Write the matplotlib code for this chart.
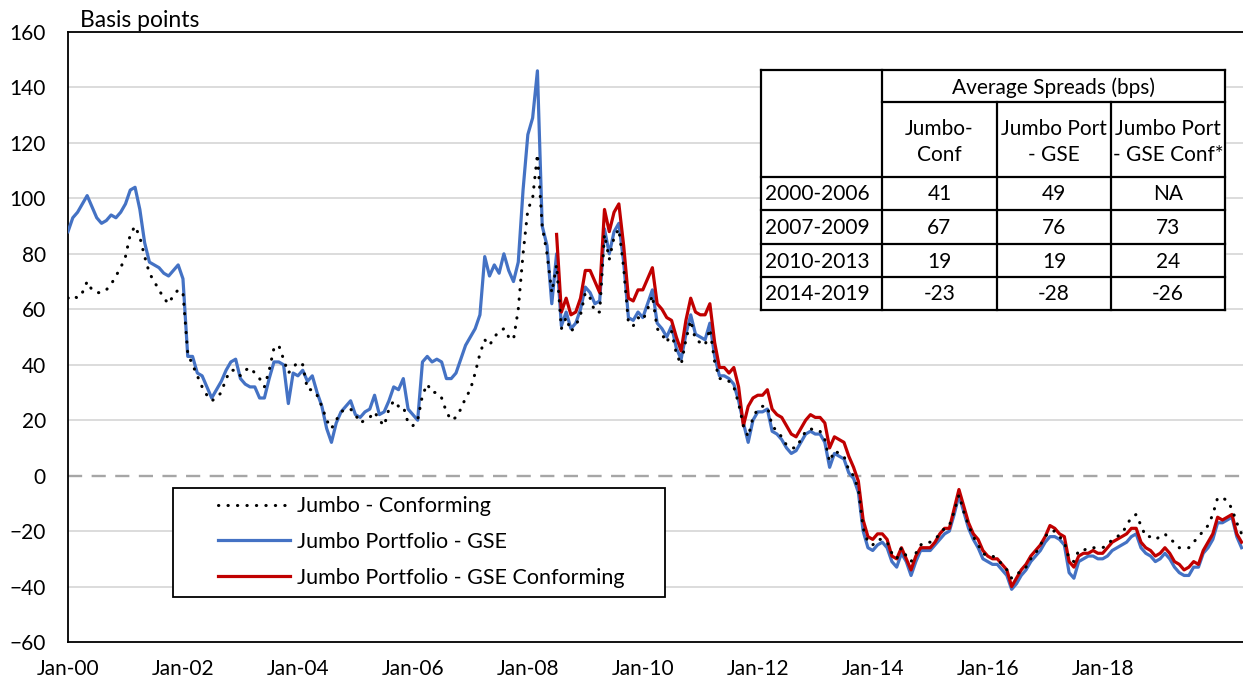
import matplotlib.pyplot as plt
from matplotlib.patches import Rectangle

plt.rcParams['font.family'] = ['Lato', 'DejaVu Sans']

# monthly spreads in basis points, month 0 = Jan-2000
jumbo_conf = [
    64, 65, 64, 66, 70, 67, 66, 66, 67, 69, 72, 75, 79, 87, 90, 86, 79, 73, 70, 67, 64, 62, 65, 67, 66,
    44, 40, 36, 32, 29, 27, 28, 30, 35, 38, 38, 36, 38, 39, 37, 35, 32,
    38, 46, 47, 42, 37, 39, 41, 40, 31, 31, 29, 25, 20, 17, 20, 23, 24, 24, 22, 19, 20,
    21, 23, 20, 18, 24, 27, 25, 25, 19, 18, 20, 29, 33, 30, 30, 28, 23, 20, 21, 24, 28,
    31, 37, 44, 49, 47, 50, 52, 53, 50, 49, 60, 80, 96, 100, 116, 90, 80, 66, 76,
    53, 57, 52, 54, 58, 66, 64, 59, 59, 87, 78, 86, 89, 75, 55, 54, 57, 56, 60, 65, 53, 51, 48,
    52, 44, 40, 49, 56, 49, 48, 47, 53, 41, 35, 35, 34, 32, 26, 18, 14, 21, 24, 25,
    25, 18, 16, 14, 11, 10, 10, 13, 16, 17, 16, 16, 13, 5, 9, 8, 7, 2, 0, -5,
    -19, -24, -25, -23, -23, -24, -28, -30, -26, -29, -31, -28, -25, -24, -24, -23, -21, -19, -18, -13,
    -7, -13, -18, -22, -25, -28, -29, -29, -30, -32, -34, -37, -36, -34, -33, -30, -28, -25, -22, -20,
    -20, -22, -24, -30, -31, -27, -27, -26, -26, -26, -26, -25, -23, -22, -21, -18, -15, -14, -18, -22,
    -22, -23, -22, -21, -23, -24, -26, -26, -26, -24, -22, -20, -18, -14, -8, -8, -9, -12, -17, -21,
]

jumbo_gse = [
    88, 93, 95, 98, 101, 97, 93, 91, 92, 94, 93, 95, 98, 103, 104, 96, 84, 77, 76, 75, 73, 72, 74, 76, 71,
    43, 43, 37, 36, 32, 28, 31, 34, 38, 41, 42, 35, 33, 32, 32, 28, 28,
    35, 41, 41, 40, 26, 37, 36, 38, 34, 36, 30, 25, 17, 12, 19, 23, 25, 27, 22, 21, 23,
    24, 29, 22, 23, 27, 32, 31, 35, 24, 22, 20, 41, 43, 41, 42, 41, 35, 35, 37, 42, 47,
    50, 53, 58, 79, 72, 76, 73, 80, 74, 70, 77, 103, 123, 129, 146, 90, 83, 62, 80, 54,
    59, 53, 55, 60, 68, 66, 62, 63, 89, 80, 88, 91, 77, 57, 56, 59, 57, 62, 67, 55, 53, 50,
    54, 46, 42, 51, 58, 51, 50, 49, 55, 43, 36, 36, 35, 33, 27, 19, 12, 20, 23, 23,
    24, 16, 15, 13, 10, 8, 9, 12, 15, 16, 15, 15, 12, 3, 8, 7, 6, 1, -1, -6,
    -20, -26, -27, -25, -24, -26, -31, -33, -28, -31, -36, -31, -27, -27, -27, -25, -23, -21, -20, -14,
    -7, -13, -19, -23, -26, -30, -31, -32, -32, -34, -36, -41, -39, -36, -34, -31, -29, -27, -24, -22,
    -22, -23, -25, -35, -37, -31, -30, -29, -29, -30, -30, -29, -27, -26, -25, -24, -22, -21, -26, -28,
    -29, -31, -30, -28, -30, -33, -35, -36, -36, -33, -33, -28, -26, -23, -17, -17, -16, -15, -22, -26,
]

# GSE conforming series starts in Jul-2008 (month 102)
gse_conf_start = 102
jumbo_gse_conf = [
    87, 59, 64, 58, 59, 64, 74, 74, 70, 66, 96, 88, 95, 98, 83, 64, 63, 67, 67, 71, 75, 62, 60, 57,
    56, 50, 45, 56, 64, 59, 58, 58, 62, 48, 39, 39, 37, 39, 32, 18, 25, 28, 29, 29,
    31, 24, 22, 21, 18, 15, 14, 17, 20, 22, 21, 21, 19, 10, 14, 13, 12, 7, 3, -2,
    -16, -22, -23, -21, -21, -23, -29, -30, -26, -30, -34, -29, -26, -26, -26, -24, -21, -19, -19, -12,
    -5, -11, -17, -21, -23, -27, -29, -30, -30, -32, -34, -40, -37, -34, -32, -29, -27, -25, -22, -18,
    -19, -21, -22, -31, -33, -29, -28, -28, -27, -28, -28, -26, -24, -23, -22, -21, -19, -19, -24, -26,
    -27, -29, -28, -26, -28, -31, -32, -34, -33, -31, -32, -27, -24, -21, -15, -16, -15, -14, -21, -24,
]

tick_months = [0, 24, 48, 72, 96, 120, 144, 168, 192, 216]
tick_labels = ['Jan-00', 'Jan-02', 'Jan-04', 'Jan-06', 'Jan-08',
               'Jan-10', 'Jan-12', 'Jan-14', 'Jan-16', 'Jan-18']

# table of average spreads
periods = ['2000-2006', '2007-2009', '2010-2013', '2014-2019']
col_heads = ['Jumbo-\nConf', 'Jumbo Port\n- GSE', 'Jumbo Port\n- GSE Conf*']
avg_conf = ['41', '67', '19', '-23']
avg_gse = ['49', '76', '19', '-28']
avg_gse_conf = ['NA', '73', '24', '-26']

W, H = 1243, 686
fig = plt.figure(figsize=(W / 100, H / 100), dpi=100)
ax = fig.add_axes([68 / W, 1 - 642 / H, 1 - 68 / W, (642 - 32) / H])

x_conf = list(range(len(jumbo_conf)))
x_gse = list(range(len(jumbo_gse)))
x_gc = list(range(gse_conf_start, gse_conf_start + len(jumbo_gse_conf)))

l_gse, = ax.plot(x_gse, jumbo_gse, color='#4472C4', lw=2.3, zorder=3,
                 label='Jumbo Portfolio - GSE')
l_gc, = ax.plot(x_gc, jumbo_gse_conf, color='#C00000', lw=2.3, zorder=4,
                label='Jumbo Portfolio - GSE Conforming')
l_conf, = ax.plot(x_conf, jumbo_conf, color='black', lw=2.2, zorder=5,
                  linestyle=(0, (0.1, 3.0)), dash_capstyle='round',
                  label='Jumbo - Conforming')

ax.axhline(0, color='#A6A6A6', lw=1.7, linestyle=(0, (6, 4)), zorder=2)

ax.set_ylim(-60, 160)
ax.set_xlim(0, 245.3)
ax.set_yticks(range(-60, 161, 20))
ax.set_xticks(tick_months)
ax.set_xticklabels(tick_labels)
ax.tick_params(axis='both', length=0, labelsize=15)
ax.tick_params(axis='y', pad=16)
ax.tick_params(axis='x', pad=12)
for g in range(-40, 160, 20):
    if g != 0:
        ax.axhline(g, color='#D9D9D9', lw=1.3, zorder=1)

for s in ['left', 'bottom', 'top']:
    ax.spines[s].set_color('black')
    ax.spines[s].set_linewidth(1.3)
ax.spines['right'].set_visible(False)

fig.text(80 / W, 1 - 27 / H, 'Basis points', fontsize=16.5, va='baseline', ha='left')

# legend box (pixel extents 173-665 x 488-597)
ax.add_patch(Rectangle(((173 - 68) / 1175, (642 - 597) / 610), 492 / 1175, 109 / 610,
                       transform=ax.transAxes, facecolor='white', edgecolor='black',
                       lw=1.3, zorder=6))
leg = ax.legend(handles=[l_conf, l_gse, l_gc], loc='center left',
                bbox_to_anchor=((218 - 68) / 1175, (642 - 542) / 610),
                fontsize=15.5, frameon=False,
                handlelength=3.35, handletextpad=0.33, labelspacing=0.72,
                borderpad=0, borderaxespad=0)
leg.set_zorder(7)

# table drawn in figure pixel positions
ax_tab = fig.add_axes([0, 0, 1, 1], facecolor='none')
ax_tab.set_xlim(0, W)
ax_tab.set_ylim(H, 0)
ax_tab.axis('off')

tl, tr, tt, tb = 761, 1225, 70, 310
cols = [761, 882, 997, 1111, 1225]
rows = [177, 210, 244, 277, 310]
ax_tab.fill_between([tl, tr], tt, tb, color='white', zorder=1)
lk = dict(color='black', lw=1.6, zorder=2)
ax_tab.plot([tl, tr], [tt, tt], **lk)
ax_tab.plot([882, tr], [102, 102], **lk)
for r in rows:
    ax_tab.plot([tl, tr], [r, r], **lk)
ax_tab.plot([tl, tl], [tt, tb], **lk)
ax_tab.plot([tr, tr], [tt, tb], **lk)
ax_tab.plot([882, 882], [tt, tb], **lk)
for c in cols[2:4]:
    ax_tab.plot([c, c], [102, tb], **lk)

ax_tab.text((882 + tr) / 2, 88, 'Average Spreads (bps)', fontsize=15,
            ha='center', va='center')
for i, h in enumerate(col_heads):
    ax_tab.text((cols[i + 1] + cols[i + 2]) / 2, 142, h, fontsize=15,
                ha='center', va='center', linespacing=1.35)
vals = [avg_conf, avg_gse, avg_gse_conf]
for j, p in enumerate(periods):
    yc = (rows[j] + rows[j + 1]) / 2 + 1
    ax_tab.text(765, yc, p, fontsize=15, ha='left', va='center')
    for i in range(3):
        ax_tab.text((cols[i + 1] + cols[i + 2]) / 2, yc, vals[i][j], fontsize=15,
                    ha='center', va='center')

fig.savefig('out.png', dpi=100)
